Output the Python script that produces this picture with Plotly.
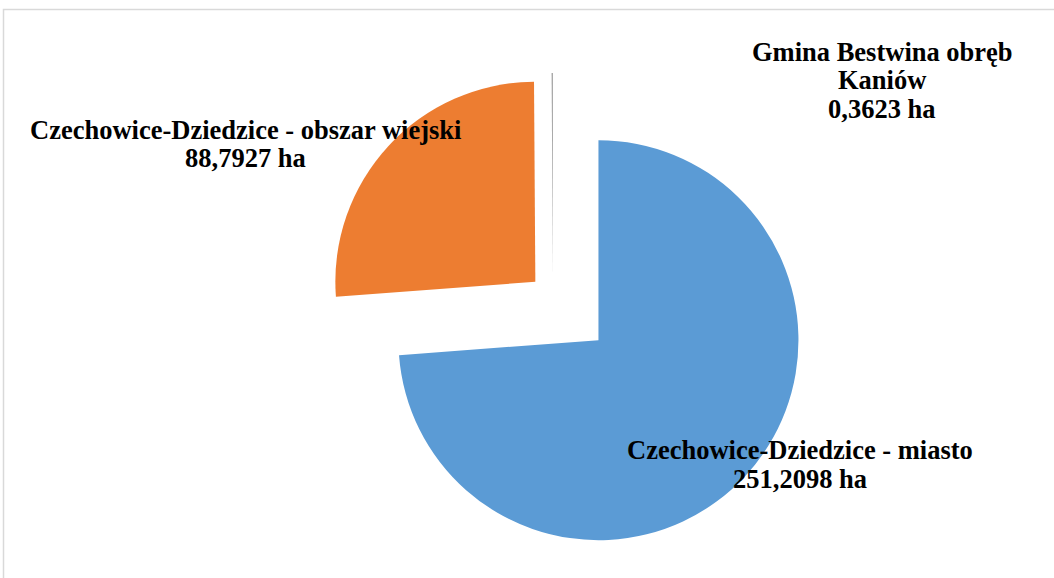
import plotly.graph_objects as go

labels = ["Czechowice-Dziedzice - miasto", "Czechowice-Dziedzice - obszar wiejski", "Gmina Bestwina obręb Kaniów"]
values = [251.2098, 88.7927, 0.3623]
label_lines = [
    ["Czechowice-Dziedzice - miasto", "251,2098 ha"],
    ["Czechowice-Dziedzice - obszar wiejski", "88,7927 ha"],
    ["Gmina Bestwina obręb", "Kaniów", "0,3623 ha"],
]
colors = ["#5B9BD5", "#ED7D31", "#A5A5A5"]
pulls = [0.31, 0.12, 0.125]

W, H = 1054, 578
# pie center and radius in pixels
cx, cy, r = 553, 298, 200
half = r * (1 + max(pulls))

fig = go.Figure(go.Pie(
    labels=labels,
    values=values,
    marker=dict(colors=colors, line=dict(width=0)),
    pull=pulls,
    sort=False,
    direction="clockwise",
    rotation=0,
    textinfo="none",
    hoverinfo="label+value",
    showlegend=False,
    domain=dict(x=[(cx - half) / W, (cx + half) / W],
                y=[1 - (cy + half) / H, 1 - (cy - half) / H]),
))

# label block: center x, first line center y (pixels)
label_pos = [(800, 450), (245, 130), (882, 52)]
line_gap = 28.5
font = dict(family="Liberation Serif, Times New Roman, serif", size=26.5, color="#000000")
for lines, (px, py) in zip(label_lines, label_pos):
    for i, ln in enumerate(lines):
        fig.add_annotation(
            x=px / W, y=1 - (py + i * line_gap) / H, xref="paper", yref="paper",
            text="<b>" + ln + "</b>", showarrow=False,
            xanchor="center", yanchor="middle", align="center", font=font,
        )

fig.add_shape(type="rect", xref="paper", yref="paper",
              x0=3.5 / W, x1=1.02, y0=-0.02, y1=1 - 9.5 / H,
              line=dict(color="#D9D9D9", width=1.5), fillcolor="rgba(0,0,0,0)")

fig.update_layout(
    width=W, height=H,
    margin=dict(l=0, r=0, t=0, b=0),
    paper_bgcolor="white", plot_bgcolor="white",
)

fig.write_html("out.html", config={"displayModeBar": False},
               post_script="document.body.style.margin='0';document.body.style.overflow='hidden';")
